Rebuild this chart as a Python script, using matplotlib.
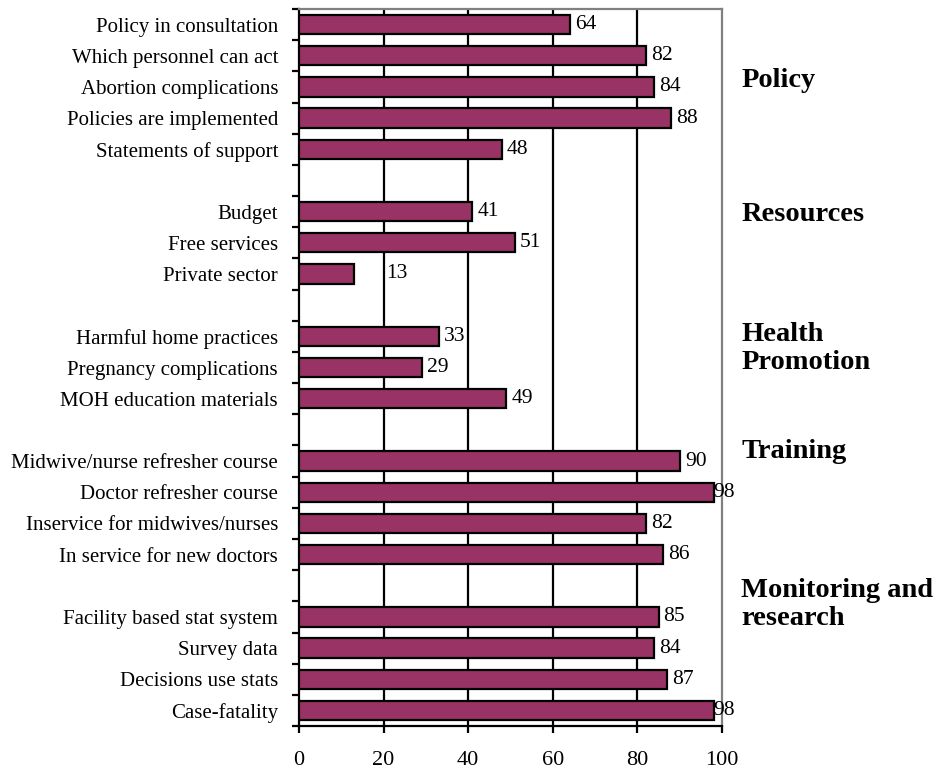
import numpy as np
import matplotlib.pyplot as plt

# --- data (top to bottom, None = gap row between groups) ---
policy_items = ["Policy in consultation", "Which personnel can act", "Abortion complications",
                "Policies are implemented", "Statements of support"]
policy_vals = [64, 82, 84, 88, 48]

resource_items = ["Budget", "Free services", "Private sector"]
resource_vals = [41, 51, 13]

health_items = ["Harmful home practices", "Pregnancy complications", "MOH education materials"]
health_vals = [33, 29, 49]

training_items = ["Midwive/nurse refresher course", "Doctor refresher course",
                  "Inservice for midwives/nurses", "In service for new doctors"]
training_vals = [90, 98, 82, 86]

monitoring_items = ["Facility based stat system", "Survey data", "Decisions use stats", "Case-fatality"]
monitoring_vals = [85, 84, 87, 98]

group_names = ["Policy", "Resources", "Health\nPromotion", "Training", "Monitoring and\nresearch"]

groups = [(policy_items, policy_vals), (resource_items, resource_vals),
          (health_items, health_vals), (training_items, training_vals),
          (monitoring_items, monitoring_vals)]

BAR = '#993366'
FONT = ['Liberation Serif', 'DejaVu Serif']

plt.rcParams['font.family'] = FONT

# build row list with a blank row between groups
labels, values = [], []
for gi, (items, vals) in enumerate(groups):
    if gi > 0:
        labels.append("")
        values.append(None)
    labels.extend(items)
    values.extend(vals)

n = len(labels)
ypos = np.arange(n)

fig = plt.figure(figsize=(9.53, 7.70), dpi=100)
ax = fig.add_axes([0.3137, 0.0571, 0.4440, 0.9312])

for y, v in zip(ypos, values):
    if v is None:
        continue
    ax.barh(y, v, height=0.62, color=BAR, edgecolor='black', linewidth=1.6, zorder=3)
    # excel-ish label placement (a few labels sit oddly in the original)
    off = 5
    if v <= 15:
        off = 32
    elif v >= 95:
        off = 0
    ax.annotate(str(v), (v, y), xytext=(off * 0.72, 0), textcoords='offset points',
                va='center', ha='left', fontsize=15.5, zorder=4)

ax.set_xlim(0, 100)
ax.set_ylim(n - 0.5, -0.5)
ax.set_xticks(np.arange(0, 101, 20))
ax.set_xticklabels([str(t) for t in range(0, 101, 20)], fontsize=16)

# ticks at row boundaries, labels at row centres
ax.set_yticks(np.arange(-0.5, n, 1.0))
ax.set_yticklabels([])
ax.set_yticks(ypos, minor=True)
ax.set_yticklabels(labels, minor=True, fontsize=15)
ax.tick_params(axis='y', which='minor', length=0, pad=15)
ax.tick_params(axis='y', which='major', length=5, width=1.6, direction='out')
ax.tick_params(axis='x', length=5, width=1.6, direction='out', pad=13)

for x in range(20, 100, 20):
    ax.axvline(x, color='black', linewidth=1.6, zorder=1)

for side in ['left', 'bottom']:
    ax.spines[side].set_color('black')
    ax.spines[side].set_linewidth(1.6)
for side in ['top', 'right']:
    ax.spines[side].set_color('#808080')
    ax.spines[side].set_linewidth(1.6)

# group headings on the right
group_y = [1.8, 6.1, 10.4, 13.7, 18.6]
for name, gy in zip(group_names, group_y):
    ax.text(1.045, gy, name, transform=ax.get_yaxis_transform(), fontsize=20.5,
            fontweight='bold', va='center', ha='left', linespacing=1.15)

fig.savefig('out.png', dpi=100)
